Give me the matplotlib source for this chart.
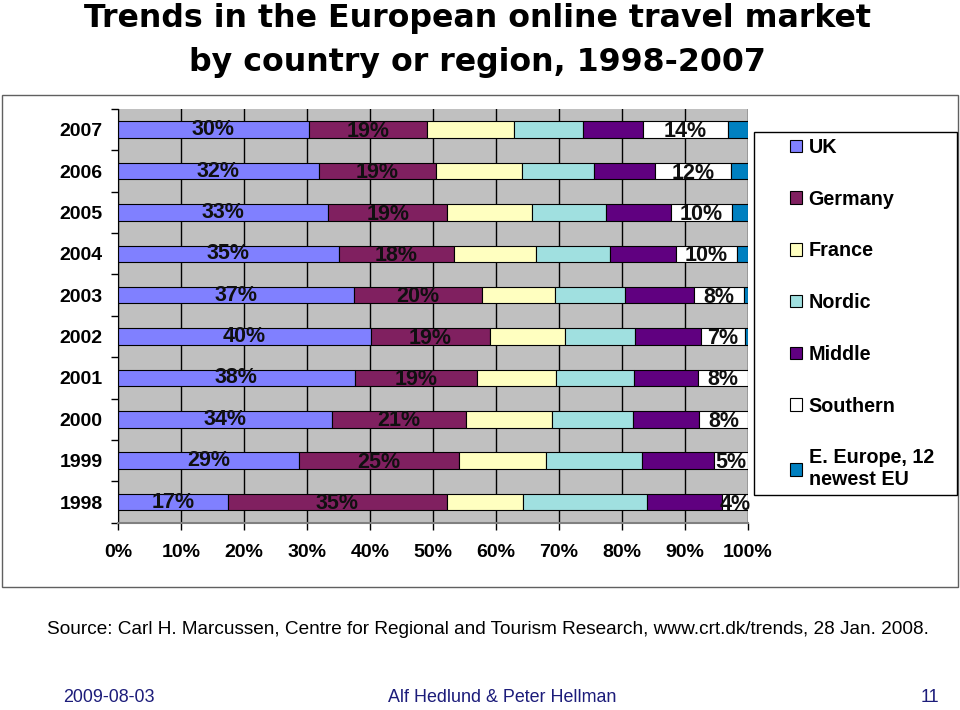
import numpy as np
import matplotlib.pyplot as plt
from matplotlib.patches import Rectangle

years = ['1998', '1999', '2000', '2001', '2002', '2003', '2004', '2005', '2006', '2007']
series_names = ['UK', 'Germany', 'France', 'Nordic', 'Middle', 'Southern',
                'E. Europe, 12\nnewest EU']
uk = [17.4, 28.8, 34.0, 37.6, 40.1, 37.4, 35.0, 33.4, 31.9, 30.3]
germany = [34.8, 25.3, 21.3, 19.4, 19.0, 20.3, 18.4, 18.8, 18.6, 18.7]
france = [12.1, 13.9, 13.6, 12.6, 11.8, 11.7, 12.9, 13.5, 13.6, 13.8]
nordic = [19.6, 15.2, 12.8, 12.3, 11.1, 11.0, 11.8, 11.7, 11.4, 11.0]
middle = [11.9, 11.4, 10.5, 10.2, 10.5, 11.1, 10.4, 10.3, 9.8, 9.5]
southern = [4.2, 5.4, 7.8, 7.9, 7.0, 7.8, 9.7, 9.8, 12.0, 13.6]
e_europe = [0.0, 0.0, 0.0, 0.0, 0.5, 0.7, 1.8, 2.5, 2.7, 3.1]
x_ticks = [0, 10, 20, 30, 40, 50, 60, 70, 80, 90, 100]

colors = ['#8080FF', '#802060', '#FFFFC0', '#A0E0E0', '#600080', '#FFFFFF', '#0080C0']
labelled = {0: 0, 1: -1.2, 5: -1.5}  # series index -> vertical label offset (pt)
label_font = ['Liberation Sans Narrow', 'DejaVu Sans Condensed', 'Liberation Sans']

fig = plt.figure(figsize=(9.6, 7.1), dpi=100)
W, H = 960, 710

# white chart box behind the axes
fig.patches.append(Rectangle((2 / W, 1 - 587 / H), 956 / W, 492 / H,
                             transform=fig.transFigure, facecolor='white',
                             edgecolor='#606060', lw=1.0, zorder=-1))

ax = fig.add_axes([118 / W, 1 - 522.7 / H, 630 / W, 413.7 / H])
ax.set_facecolor('#C0C0C0')
ax.set_axisbelow(True)

data = [uk, germany, france, nordic, middle, southern, e_europe]
y = np.arange(len(years))
left = np.zeros(len(years))
bars = []
for i, vals in enumerate(data):
    vals = np.array(vals)
    b = ax.barh(y, vals, left=left, height=0.40, color=colors[i],
                edgecolor='black', linewidth=0.8, label=series_names[i])
    bars.append(b)
    if i in labelled:
        for yy, l, v in zip(y, left, vals):
            ax.annotate(f'{v:.0f}%', (l + v / 2, yy), xytext=(0, labelled[i]),
                        textcoords='offset points', ha='center', va='center',
                        fontsize=15.5, fontweight='bold', color='#101010',
                        family=label_font)
    left += vals

ax.set_xlim(0, 100)
ax.set_ylim(-0.5, len(years) - 0.5)
ax.set_xticks(x_ticks)
ax.set_xticklabels([f'{t}%' for t in x_ticks])
ax.set_yticks(y)
ax.set_yticklabels(years)
ax.set_yticks(np.arange(-0.5, len(years)), minor=True)
ax.tick_params(axis='y', which='major', length=0, pad=11)
ax.tick_params(axis='y', which='minor', length=5, width=1, color='black')
ax.tick_params(axis='x', length=5, width=1, color='black', pad=10)
for lab in ax.get_xticklabels() + ax.get_yticklabels():
    lab.set_fontsize(14)
    lab.set_fontweight('bold')
    lab.set_family('Liberation Sans')
ax.grid(axis='x', color='black', linewidth=1)
ax.spines['top'].set_visible(False)
ax.spines['right'].set_visible(False)
ax.spines['left'].set_color('black')
ax.spines['bottom'].set_color('#808080')
ax.spines['bottom'].set_linewidth(1.5)

# legend with its own frame
fig.patches.append(Rectangle((754 / W, 1 - 495 / H), 203 / W, 363 / H,
                             transform=fig.transFigure, facecolor='white',
                             edgecolor='black', lw=1.0, zorder=1))
leg = fig.legend(handles=bars, labels=series_names, loc='upper left',
                 bbox_to_anchor=(780 / W, 1 - 128 / H), frameon=False,
                 prop={'family': 'Liberation Sans', 'weight': 'bold', 'size': 14.2},
                 handlelength=0.6, handleheight=0.6, handletextpad=0.35,
                 labelspacing=1.66, borderpad=0)

fig.text(477 / W, 1 - 19 / H, 'Trends in the European online travel market',
         ha='center', va='center', fontsize=22.8, fontweight='bold', family='DejaVu Sans')
fig.text(477 / W, 1 - 62 / H, 'by country or region, 1998-2007',
         ha='center', va='center', fontsize=22.8, fontweight='bold', family='DejaVu Sans')

fig.text(47 / W, 1 - 629 / H,
         'Source: Carl H. Marcussen, Centre for Regional and Tourism Research, '
         'www.crt.dk/trends, 28 Jan. 2008.',
         ha='left', va='center', fontsize=13.7, family='Liberation Sans')

navy = '#1c1c7a'
fig.text(63 / W, 1 - 698 / H, '2009-08-03', ha='left', va='center',
         fontsize=12.9, color=navy, family='Liberation Sans')
fig.text(502 / W, 1 - 698 / H, 'Alf Hedlund & Peter Hellman', ha='center', va='center',
         fontsize=12.9, color=navy, family='Liberation Sans')
fig.text(930 / W, 1 - 698 / H, '11', ha='center', va='center',
         fontsize=12.9, color=navy, family='Liberation Sans')

fig.savefig('out.png', dpi=100)
